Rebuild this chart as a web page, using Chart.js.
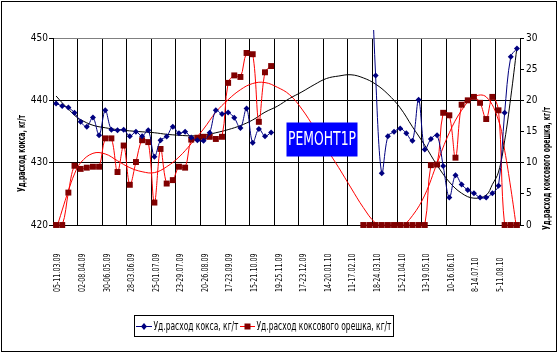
<!DOCTYPE html>
<html><head><meta charset="utf-8">
<script src="https://cdn.jsdelivr.net/npm/chart.js@4.4.1/dist/chart.umd.min.js"></script>
<style>html,body{margin:0;padding:0;background:#fff}canvas{display:block}</style>
</head><body>
<canvas id="c" width="559" height="357"></canvas>
<script>
const FONT = '"Liberation Sans Narrow","Arial Narrow","DejaVu Sans Condensed",sans-serif';

const tickLabels = ['05-11.03.09','02-08.04.09','30-06.05.09','28-03.06.09','25-01.07.09','23-29.07.09',
  '20-26.08.09','17-23.09.09','15-21.10.09','19-25.11.09','17-23.12.09','14-20.01.10','11-17.02.10',
  '18-24.03.10','15-21.04.10','13-19.05.10','10-16.06.10','8-14.07.10','5-11.08.10'];

// Уд. расход кокса, кг/т (left axis)
const cokeRate = [
  439.5,439.1,438.85,438.0,436.55,435.75,437.25,434.4,438.4,435.3,
  435.2,435.3,434.25,434.95,434.25,435.2,430.95,433.6,434.2,435.75,
  434.7,434.95,434.05,433.6,433.5,434.8,438.4,437.8,438.05,437.2,
  435.55,438.7,433.2,435.4,434.25,434.85,null,null,null,null,
  null,null,null,null,null,null,null,null,null,null,
  null,470,444.0,428.3,434.25,434.95,435.5,434.7,433.5,440.1,
  432.1,433.8,434.4,429.45,424.4,428.0,426.5,425.6,425.1,424.4,
  424.4,425.1,426.3,438.0,447.0,448.3];

// Уд. расход коксового орешка, кг/т (right axis)
const nutRate = [
  0,0,5.2,9.5,9.0,9.2,9.35,9.35,13.9,13.9,
  8.5,12.75,6.45,10.1,13.6,13.3,3.6,12.2,6.65,7.2,
  9.35,9.2,13.7,14.0,14.15,14.15,13.8,14.15,22.8,24.0,
  23.75,27.6,27.4,16.55,24.5,25.5,null,null,null,null,
  null,null,null,null,null,null,null,null,null,null,
  0,0,0,0,0,0,0,0,0,0,
  0,9.6,9.7,18.0,17.6,10.8,19.3,20.0,20.55,19.6,
  17.0,20.55,18.4,0,0,0];

// trend lines
const cokeTrend = [
  440.7,439.6,438.6,437.6,436.9,null,436.0,null,435.6,null,
  435.3,null,435.1,null,434.95,null,434.8,null,434.55,null,
  434.4,null,434.3,null,434.4,null,434.8,null,435.3,null,
  435.95,null,436.85,null,438.1,null,439.05,null,440.3,null,
  441.35,null,442.5,null,443.5,null,443.9,null,444.1,null,
  443.6,null,442.6,null,441.0,null,438.8,null,435.75,null,
  432.8,null,429.6,null,426.9,null,425.1,null,424.3,null,
  424.8,426.5,428.5,433.5,440.5,448.5];

const nutTrend = [
  -0.8,2.4,5.5,8.2,10.0,null,11.5,null,11.4,null,
  10.3,null,9.2,null,8.55,null,8.4,null,9.35,null,
  10.9,null,13.05,null,15.4,null,18.1,null,20.1,null,
  21.7,null,22.7,null,22.85,null,22.1,null,20.9,null,
  18.6,null,15.6,null,12.3,null,9.2,null,5.95,null,
  2.8,null,0.3,null,-0.7,null,-0.4,null,1.5,null,
  4.8,null,9.9,null,14.8,null,18.4,null,20.55,null,
  20.55,null,16.8,12.0,5.9,-1.0];

const legendLabels = ['Уд.расход кокса, кг/т','Уд.расход коксового орешка, кг/т'];
const leftTitle = 'Уд.расход кокса, кг/т';
const rightTitle = 'Уд.расход коксового орешка, кг/т';
const noteText = 'РЕМОНТ1Р';

const categories = cokeRate.map((_, i) => (i % 4 === 0 ? tickLabels[i / 4] : ''));

function fitText(ctx, text, x, y, targetW, font, rot, align) {
  ctx.save();
  ctx.font = font;
  const w = ctx.measureText(text).width;
  const s = targetW / w;
  ctx.translate(x, y);
  if (rot) ctx.rotate(rot);
  ctx.scale(s, 1);
  ctx.textAlign = align || 'center';
  ctx.textBaseline = 'middle';
  ctx.fillText(text, 0, 0);
  ctx.restore();
}

const decor = {
  id: 'decor',
  beforeDraw(chart) {
    const ctx = chart.ctx;
    ctx.save(); ctx.fillStyle = '#fff'; ctx.fillRect(0, 0, chart.width, chart.height); ctx.restore();
  },
  afterDraw(chart) {
    const ctx = chart.ctx;
    const xs = chart.scales.x, ys = chart.scales.y;
    ctx.save();
    ctx.fillStyle = '#000';
    // x labels
    ctx.font = '9px ' + FONT;
    const s = 38.5 / ctx.measureText(tickLabels[0]).width;
    tickLabels.forEach((t, k) => {
      const x = xs.getPixelForValue(k * 4) + 2;
      ctx.save();
      ctx.translate(x, 292);
      ctx.rotate(-Math.PI / 2);
      ctx.scale(s, 1);
      ctx.textAlign = 'left'; ctx.textBaseline = 'middle';
      ctx.fillText(t, 0, 0);
      ctx.restore();
    });
    // axis titles
    fitText(ctx, leftTitle, 21.7, 153.5, 77, 'bold 11px ' + FONT, -Math.PI / 2);
    fitText(ctx, rightTitle, 547, 168.5, 123, 'bold 11px ' + FONT, -Math.PI / 2);

    // repair note
    const nx0 = 286.5, ny0 = 122.5, nw = 71, nh = 34;
    ctx.fillStyle = '#0000ff';
    ctx.fillRect(nx0, ny0, nw, nh);
    ctx.fillStyle = '#fff';
    fitText(ctx, noteText, nx0 + nw / 2, ny0 + nh / 2 + 0.5, 68, '20px ' + FONT, 0);

    // legend
    ctx.strokeStyle = '#000'; ctx.lineWidth = 1;
    ctx.strokeRect(134.5, 315.5, 259, 21);
    const ly = 326.5;
    ctx.strokeStyle = '#000080';
    ctx.beginPath(); ctx.moveTo(136, ly); ctx.lineTo(152, ly); ctx.stroke();
    ctx.fillStyle = '#000080';
    ctx.beginPath(); ctx.moveTo(144, ly - 3.5); ctx.lineTo(147, ly); ctx.lineTo(144, ly + 3.5); ctx.lineTo(141, ly); ctx.closePath(); ctx.fill();
    ctx.strokeStyle = '#ff0000';
    ctx.beginPath(); ctx.moveTo(240, ly); ctx.lineTo(255, ly); ctx.stroke();
    ctx.fillStyle = '#800000';
    ctx.fillRect(244.5, ly - 3, 6, 6);
    ctx.fillStyle = '#000';
    fitText(ctx, legendLabels[0], 153.5, ly + 0.5, 85, '12px ' + FONT, 0, 'left');
    fitText(ctx, legendLabels[1], 256.5, ly + 0.5, 135, '12px ' + FONT, 0, 'left');

    // outer frame
    ctx.strokeStyle = '#000';
    ctx.strokeRect(1.5, 1.5, 555, 350);
    ctx.restore();
  }
};

new Chart(document.getElementById('c'), {
  type: 'line',
  data: {
    labels: categories,
    datasets: [
      { label: legendLabels[0], data: cokeRate, yAxisID: 'y', order: 1,
        borderColor: '#000080', borderWidth: 1, backgroundColor: '#000080',
        pointStyle: 'rectRot', pointRadius: 3, pointBorderWidth: 0, pointBackgroundColor: '#000080',
        tension: 0.35, spanGaps: false, clip: {left: 5, right: 5, top: 8, bottom: 5} },
      { label: legendLabels[1], data: nutRate, yAxisID: 'y2', order: 2,
        borderColor: '#ff0000', borderWidth: 1, backgroundColor: '#800000',
        pointStyle: 'rect', pointRadius: 4.2, pointBorderWidth: 0, pointBackgroundColor: '#800000',
        tension: 0.35, spanGaps: false, clip: {left: 5, right: 5, top: 5, bottom: 5} },
      { label: 'trend1', data: cokeTrend, yAxisID: 'y', order: 3,
        borderColor: '#000', borderWidth: 1, pointRadius: 0, tension: 0.4, spanGaps: true },
      { label: 'trend2', data: nutTrend, yAxisID: 'y2', order: 4,
        borderColor: '#ff0000', borderWidth: 1, pointRadius: 0, tension: 0.4, spanGaps: true }
    ]
  },
  options: {
    responsive: false,
    animation: false,
    devicePixelRatio: 1,
    layout: { padding: { top: 38, bottom: 132, left: 0, right: 0 } },
    plugins: { legend: { display: false }, tooltip: { enabled: false } },
    elements: { line: { capBezierPoints: true } },
    scales: {
      x: {
        type: 'category', offset: true,
        grid: { offset: true, drawTicks: false,
          color: (c) => (c.index !== undefined && c.index % 4 === 0 ? '#000' : 'rgba(0,0,0,0)'),
          lineWidth: 1 },
        border: { color: '#000', width: 1 },
        ticks: { display: false }
      },
      y: {
        position: 'left', min: 420, max: 450,
        afterFit: (s) => { s.width = 53; },
        ticks: { stepSize: 10, color: '#000', padding: 1, font: { family: FONT, size: 10 } },
        grid: { color: (c) => (c.tick && c.tick.value === 450 ? '#808080' : '#000'),
          tickColor: '#000', tickLength: 4, drawTicks: true },
        border: { color: '#000', width: 1 }
      },
      y2: {
        position: 'right', min: 0, max: 30,
        afterFit: (s) => { s.width = 39; },
        ticks: { stepSize: 5, color: '#000', padding: 2, font: { family: FONT, size: 10 } },
        grid: { drawOnChartArea: false, tickColor: '#000', tickLength: 4, drawTicks: true },
        border: { color: '#000', width: 1 }
      }
    }
  },
  plugins: [decor]
});
</script>
</body></html>
